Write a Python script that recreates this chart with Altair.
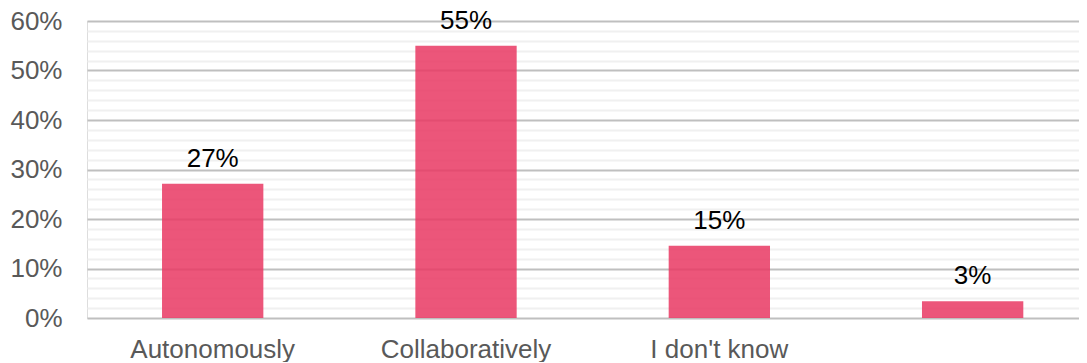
import altair as alt
import pandas as pd

categories = ["Autonomously", "Collaboratively", "I don't know", ""]
values = [27.1, 55.0, 14.6, 3.4]
labels = ["27%", "55%", "15%", "3%"]

df = pd.DataFrame({"cat": categories, "value": values, "label": labels})

FONT = "Liberation Sans"

x = alt.X(
    "cat:N",
    sort=categories,
    title=None,
    scale=alt.Scale(paddingInner=0.6, paddingOuter=0.258, align=0.574),
    axis=alt.Axis(
        labelAngle=0,
        labelFontSize=26,
        labelColor="#595959",
        labelFont=FONT,
        ticks=False,
        domain=False,
        grid=False,
        labelPadding=18,
    ),
)

y = alt.Y(
    "value:Q",
    title=None,
    scale=alt.Scale(domain=[0, 60], nice=False),
    axis=alt.Axis(
        values=list(range(0, 61, 2)),
        labelExpr="datum.value % 10 === 0 ? datum.value + '%' : ''",
        labelFontSize=26,
        labelColor="#595959",
        labelFont=FONT,
        labelPadding=25,
        ticks=False,
        domain=False,
        gridWidth=2,
        gridColor=alt.condition(
            "datum.value % 10 === 0", alt.value("#BFBFBF"), alt.value("#F0F0F0")
        ),
    ),
)

base = alt.Chart(df)

bars = base.mark_bar(color="#E93863", opacity=0.85).encode(x=x, y=y)

text = base.mark_text(
    baseline="alphabetic", dy=-17, fontSize=26, font=FONT, color="#000000"
).encode(x=x, y=y, text="label:N")

chart = (
    alt.layer(bars, text)
    .properties(
        width=992,
        height=297,
        autosize=alt.AutoSizeParams(type="none"),
        padding={"left": 79, "top": 13, "right": 0, "bottom": 44},
    )
    .configure_view(stroke=None)
    .configure(background="white")
)

chart.save("out.html", embed_options={"renderer": "svg", "actions": False})
